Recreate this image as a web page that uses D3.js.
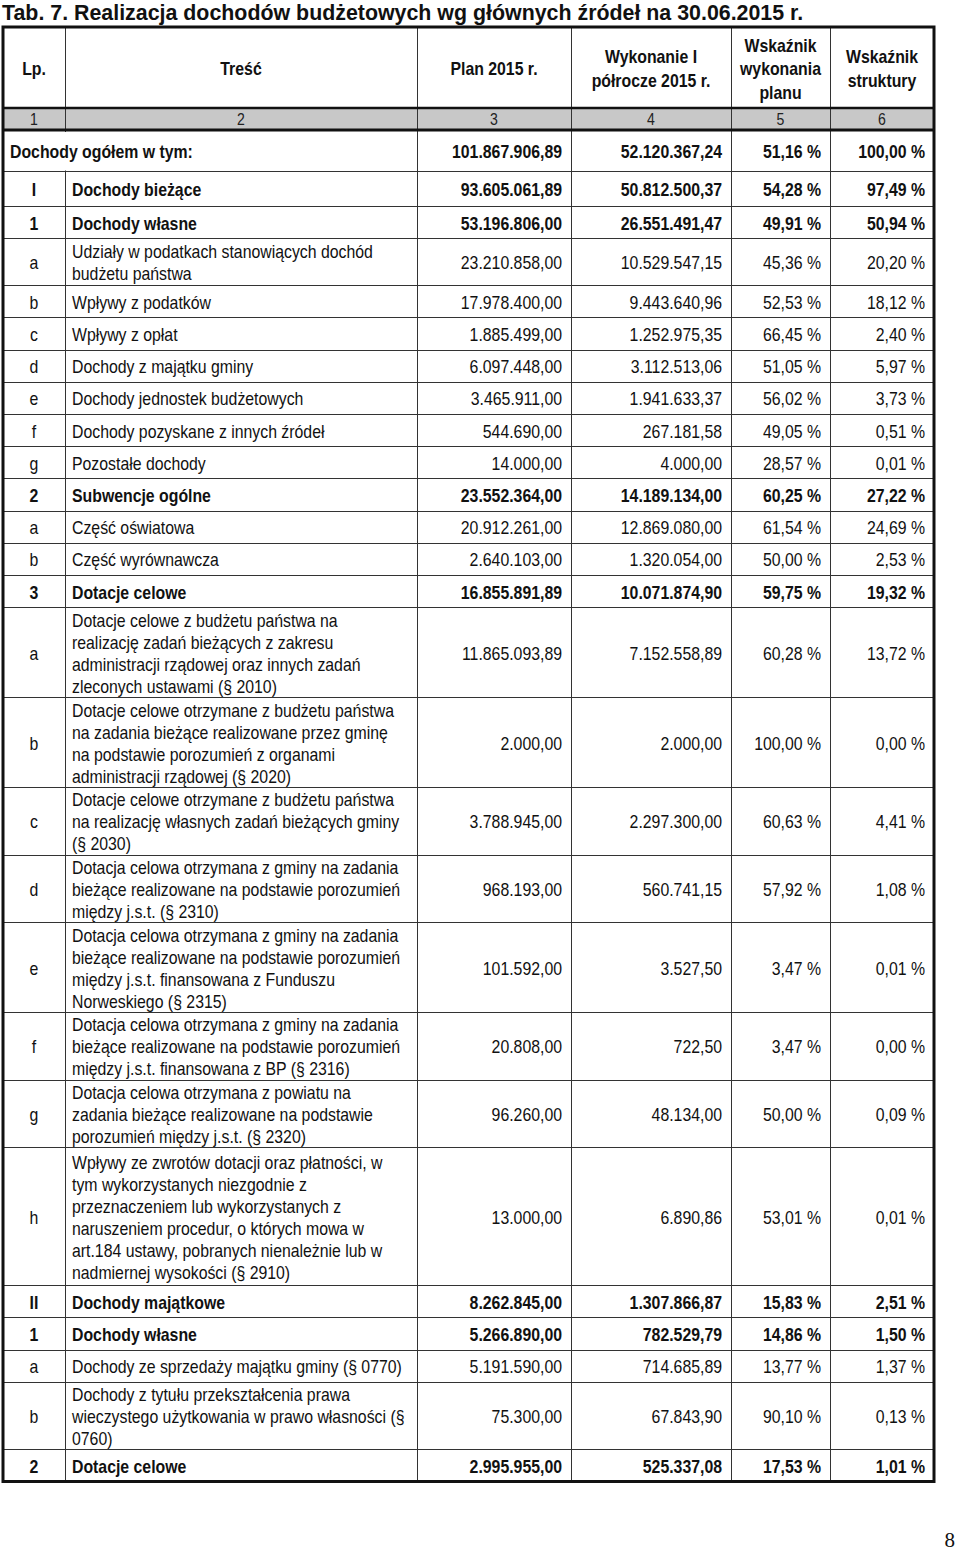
<!DOCTYPE html>
<html><head><meta charset="utf-8">
<script src="https://cdn.jsdelivr.net/npm/d3@7"></script>
<style>body{margin:0;background:#fff}svg{display:block}</style>
</head><body>
<svg id="c" width="960" height="1554"></svg>
<script>
// ---------- data ----------
const titleText = "Tab. 7. Realizacja dochodów budżetowych wg głównych źródeł na 30.06.2015 r.";
const headerLabels = [["Lp."], ["Treść"], ["Plan 2015 r."], ["Wykonanie I", "półrocze 2015 r."], ["Wskaźnik", "wykonania", "planu"], ["Wskaźnik", "struktury"]];
const columnNumbers = ["1", "2", "3", "4", "5", "6"];
const lpLabels = ["", "I", "1", "a", "b", "c", "d", "e", "f", "g", "2", "a", "b", "3", "a", "b", "c", "d", "e", "f", "g", "h", "II", "1", "a", "b", "2"];
const descriptions = [
  "Dochody ogółem w tym:",
  "Dochody bieżące",
  "Dochody własne",
  "Udziały w podatkach stanowiących dochód\nbudżetu państwa",
  "Wpływy z podatków",
  "Wpływy z opłat",
  "Dochody z majątku gminy",
  "Dochody jednostek budżetowych",
  "Dochody pozyskane z innych źródeł",
  "Pozostałe dochody",
  "Subwencje ogólne",
  "Część oświatowa",
  "Część wyrównawcza",
  "Dotacje celowe",
  "Dotacje celowe z budżetu państwa na\nrealizację zadań bieżących z zakresu\nadministracji rządowej oraz innych zadań\nzleconych ustawami (§ 2010)",
  "Dotacje celowe otrzymane z budżetu państwa\nna zadania bieżące realizowane przez gminę\nna podstawie porozumień z organami\nadministracji rządowej (§ 2020)",
  "Dotacje celowe otrzymane z budżetu państwa\nna realizację własnych zadań bieżących gminy\n(§ 2030)",
  "Dotacja celowa otrzymana z gminy na zadania\nbieżące realizowane na podstawie porozumień\nmiędzy j.s.t. (§ 2310)",
  "Dotacja celowa otrzymana z gminy na zadania\nbieżące realizowane na podstawie porozumień\nmiędzy j.s.t. finansowana z Funduszu\nNorweskiego (§ 2315)",
  "Dotacja celowa otrzymana z gminy na zadania\nbieżące realizowane na podstawie porozumień\nmiędzy j.s.t. finansowana z BP (§ 2316)",
  "Dotacja celowa otrzymana z powiatu na\nzadania bieżące realizowane na podstawie\nporozumień między j.s.t. (§ 2320)",
  "Wpływy ze zwrotów dotacji oraz płatności, w\ntym wykorzystanych niezgodnie z\nprzeznaczeniem lub wykorzystanych z\nnaruszeniem procedur, o których mowa w\nart.184 ustawy, pobranych nienależnie lub w\nnadmiernej wysokości (§ 2910)",
  "Dochody majątkowe",
  "Dochody własne",
  "Dochody ze sprzedaży majątku gminy (§ 0770)",
  "Dochody z tytułu przekształcenia prawa\nwieczystego użytkowania w prawo własności (§\n0760)",
  "Dotacje celowe"
];
const planValues = [101867906.89, 93605061.89, 53196806.00, 23210858.00, 17978400.00, 1885499.00, 6097448.00, 3465911.00, 544690.00, 14000.00, 23552364.00, 20912261.00, 2640103.00, 16855891.89, 11865093.89, 2000.00, 3788945.00, 968193.00, 101592.00, 20808.00, 96260.00, 13000.00, 8262845.00, 5266890.00, 5191590.00, 75300.00, 2995955.00];
const execValues = [52120367.24, 50812500.37, 26551491.47, 10529547.15, 9443640.96, 1252975.35, 3112513.06, 1941633.37, 267181.58, 4000.00, 14189134.00, 12869080.00, 1320054.00, 10071874.90, 7152558.89, 2000.00, 2297300.00, 560741.15, 3527.50, 722.50, 48134.00, 6890.86, 1307866.87, 782529.79, 714685.89, 67843.90, 525337.08];
const execRatio = [51.16, 54.28, 49.91, 45.36, 52.53, 66.45, 51.05, 56.02, 49.05, 28.57, 60.25, 61.54, 50.00, 59.75, 60.28, 100.00, 60.63, 57.92, 3.47, 3.47, 50.00, 53.01, 15.83, 14.86, 13.77, 90.10, 17.53];
const structRatio = [100.00, 97.49, 50.94, 20.20, 18.12, 2.40, 5.97, 3.73, 0.51, 0.01, 27.22, 24.69, 2.53, 19.32, 13.72, 0.00, 4.41, 1.08, 0.01, 0.00, 0.09, 0.01, 2.51, 1.50, 1.37, 0.13, 1.01];
const boldRows = [0, 1, 2, 10, 13, 22, 23, 26];
const pageNumber = "8";

// ---------- layout ----------
const FONT = "'Liberation Sans','Arial',sans-serif";
const SX = 0.88;          // horizontal condensing (Arial Narrow look)
const colEdges = [3, 65, 417, 571, 731, 830, 934];
const tableTop = 27, headerBottom = 108, numBottom = 130;
const lineStep = 22;
const heightByLines = {1: 32.2, 2: 47, 3: 67.5, 4: 90, 5: 114, 6: 138};

const locale = d3.formatLocale({decimal: ",", thousands: ".", grouping: [3], currency: ["", ""]});
const fmtNum = locale.format(",.2f");
const fmtPct = v => locale.format(",.2f")(v) + " %";

const rows = lpLabels.map((lp, i) => ({
  i, lp,
  lines: descriptions[i].split("\n"),
  plan: fmtNum(planValues[i]),
  exec: fmtNum(execValues[i]),
  ratio: fmtPct(execRatio[i]),
  struct: fmtPct(structRatio[i]),
  bold: boldRows.includes(i)
}));
const rowHeight = r => r.i === 0 ? 41 : r.i === 1 ? 35 : heightByLines[r.lines.length];
const heights = rows.map(rowHeight);
const tops = [numBottom, ...d3.cumsum(heights).map(v => v + numBottom)];
const yTop = d3.scaleOrdinal().domain(d3.range(rows.length + 1)).range(tops);
const tableBottom = yTop(rows.length);
const xCol = d3.scaleOrdinal().domain(d3.range(7)).range(colEdges);

const svg = d3.select("#c");
const place = (sel, x, y, sx = SX) => sel.attr("transform", `translate(${x},${y}) scale(${sx},1)`);

// title
place(svg.append("text"), 2, 20, 0.93)
  .attr("font-family", FONT).attr("font-weight", "bold").attr("font-size", 23)
  .attr("fill", "#111").text(titleText);

// gray number row
svg.append("rect").attr("x", xCol(0)).attr("y", headerBottom).attr("width", xCol(6) - xCol(0)).attr("height", numBottom - headerBottom)
  .attr("fill", "#c8c8c8");

const grid = svg.append("g").attr("stroke", "#333").attr("stroke-width", 1);
grid.selectAll("line.h").data(d3.range(1, rows.length)).join("line")
  .attr("x1", xCol(0)).attr("x2", xCol(6))
  .attr("y1", i => Math.round(yTop(i)) + 0.5).attr("y2", i => Math.round(yTop(i)) + 0.5);
[1, 2, 3, 4, 5].forEach(c => {
  grid.append("line").attr("x1", xCol(c) + 0.5).attr("x2", xCol(c) + 0.5).attr("y1", tableTop).attr("y2", tableBottom);
});
// merged first row: no Lp/Treść divider
svg.append("rect").attr("x", xCol(1) - 1).attr("y", yTop(0) + 2).attr("width", 3).attr("height", yTop(1) - yTop(0) - 2.5).attr("fill", "#fff");

// thick lines
const thick = svg.append("g").attr("stroke", "#111").attr("fill", "none");
thick.append("line").attr("x1", xCol(0)).attr("x2", xCol(6)).attr("y1", headerBottom).attr("y2", headerBottom).attr("stroke-width", 2.5);
thick.append("line").attr("x1", xCol(0)).attr("x2", xCol(6)).attr("y1", numBottom).attr("y2", numBottom).attr("stroke-width", 3);
thick.append("rect").attr("x", xCol(0)).attr("y", tableTop).attr("width", xCol(6) - xCol(0)).attr("height", tableBottom - tableTop).attr("stroke-width", 3);

// header text
const cellCenter = c => (xCol(c) + xCol(c + 1)) / 2;
const hdr = svg.append("g").attr("font-family", FONT).attr("font-weight", "bold").attr("font-size", 18).attr("fill", "#111").attr("text-anchor", "middle");
headerLabels.forEach((lines, c) => {
  const cy = (tableTop + headerBottom) / 2 + 1;
  lines.forEach((t, k) => {
    place(hdr.append("text"), cellCenter(c), cy + (k - (lines.length - 1) / 2) * 23.5 + 6.5).text(t);
  });
});
svg.append("g").attr("font-family", FONT).attr("font-size", 16).attr("fill", "#222").attr("text-anchor", "middle")
  .selectAll("text").data(columnNumbers).join("text")
  .attr("transform", (d, c) => `translate(${cellCenter(c)},${(headerBottom + numBottom) / 2 + 6}) scale(${SX},1)`)
  .text(d => d);

// body rows
const body = svg.append("g").attr("font-family", FONT).attr("font-size", 18).attr("fill", "#111");
const rg = body.selectAll("g.row").data(rows).join("g")
  .attr("font-weight", d => d.bold ? "bold" : "normal");
const cyOf = d => (yTop(d.i) + yTop(d.i + 1)) / 2 + 1;

rg.append("text").attr("text-anchor", "middle")
  .attr("transform", d => `translate(${cellCenter(0)},${cyOf(d) + 6.5}) scale(${SX},1)`).text(d => d.lp);
rg.each(function (d) {
  const g = d3.select(this);
  const x0 = d.i === 0 ? 10 : xCol(1) + 7;
  d.lines.forEach((t, k) => {
    place(g.append("text"), x0, cyOf(d) + (k - (d.lines.length - 1) / 2) * lineStep + 6.5).text(t);
  });
});
const valCols = [["plan", 3], ["exec", 4], ["ratio", 5], ["struct", 6]];
valCols.forEach(([key, c]) => {
  rg.append("text").attr("text-anchor", "end")
    .attr("transform", d => `translate(${xCol(c) - 9},${cyOf(d) + 6.5}) scale(${SX},1)`).text(d => d[key]);
});

// page number
svg.append("text").attr("x", 955).attr("y", 1547).attr("text-anchor", "end")
  .attr("font-family", "'Liberation Serif','Times New Roman',serif").attr("font-size", 21).attr("fill", "#111").text(pageNumber);
</script>
</body></html>
